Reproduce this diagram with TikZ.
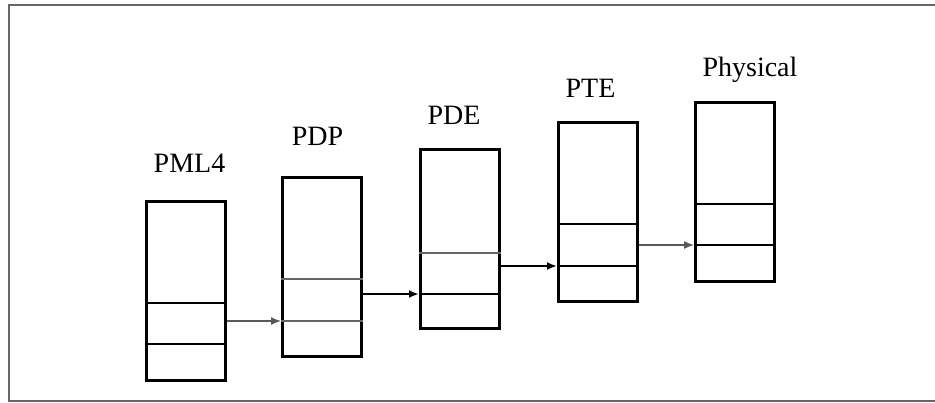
\documentclass[tikz,border=0pt]{standalone}
\usepackage{fontspec}
\setmainfont{Liberation Serif}
\usetikzlibrary{arrows.meta}
\begin{document}
\begin{tikzpicture}[x=0.5pt,y=-0.5pt,
  tbl/.style={draw,line width=1.25pt,minimum width=39.5pt,minimum height=89.5pt,inner sep=0pt,anchor=north west},
  thickdiv/.style={line width=1.2pt},
  thindiv/.style={line width=0.8pt,black!60},
  lbl/.style={font=\fontsize{14}{16}\selectfont,inner sep=0pt,anchor=base},
  thinarr/.style={line width=0.7pt,black!65,-{Latex[length=5pt,width=4pt]}},
  thickarr/.style={line width=1.2pt,-{Latex[length=5pt,width=4pt]}},
  frame/.style={line width=1pt,black!60}]
\useasboundingbox (0,0) rectangle (935,402);
% frame
\coordinate (f1) at (935,5);
\coordinate (f2) at (8.5,5);
\coordinate (f3) at (8.5,401);
\coordinate (f4) at (935,401);
\draw[frame] (f1) -- (f2) -- (f3) -- (f4);
% tables
\node[tbl] (pml4) at (145,200) {};
\node[tbl] (pdp) at (281,176) {};
\node[tbl,line width=1.4pt] (pde) at (419,148) {};
\node[tbl] (pte) at (557,121) {};
\node[tbl] (phys) at (694,101) {};
% labels
\node[lbl] (lpml4) at (189.5,172) {PML4};
\node[lbl] (lpdp) at (317.5,145) {PDP};
\node[lbl] (lpde) at (454,124) {PDE};
\node[lbl] (lpte) at (590.5,97) {PTE};
\node[lbl] (lphys) at (750,76) {Physical};
% divisions
\draw[thickdiv] (pml4.west |- 0,303) -- (pml4.east |- 0,303);
\draw[thickdiv] (pml4.west |- 0,344) -- (pml4.east |- 0,344);
\draw[thindiv] (pdp.west |- 0,279) -- (pdp.east |- 0,279);
\draw[thindiv] (pdp.west |- 0,321) -- (pdp.east |- 0,321);
\draw[thindiv] (pde.west |- 0,253) -- (pde.east |- 0,253);
\draw[thickdiv] (pde.west |- 0,294) -- (pde.east |- 0,294);
\draw[line width=0.9pt] (pte.west |- 0,224) -- (pte.east |- 0,224);
\draw[thickdiv] (pte.west |- 0,266) -- (pte.east |- 0,266);
\draw[thickdiv] (phys.west |- 0,204) -- (phys.east |- 0,204);
\draw[thickdiv] (phys.west |- 0,245) -- (phys.east |- 0,245);
% arrows
\draw[thinarr] (pml4.east |- 0,321) -- (pdp.west |- 0,321);
\draw[thickarr] (pdp.east |- 0,294) -- (pde.west |- 0,294);
\draw[thickarr] (pde.east |- 0,266) -- (pte.west |- 0,266);
\draw[thinarr] (pte.east |- 0,245) -- (phys.west |- 0,245);
\end{tikzpicture}
\end{document}
